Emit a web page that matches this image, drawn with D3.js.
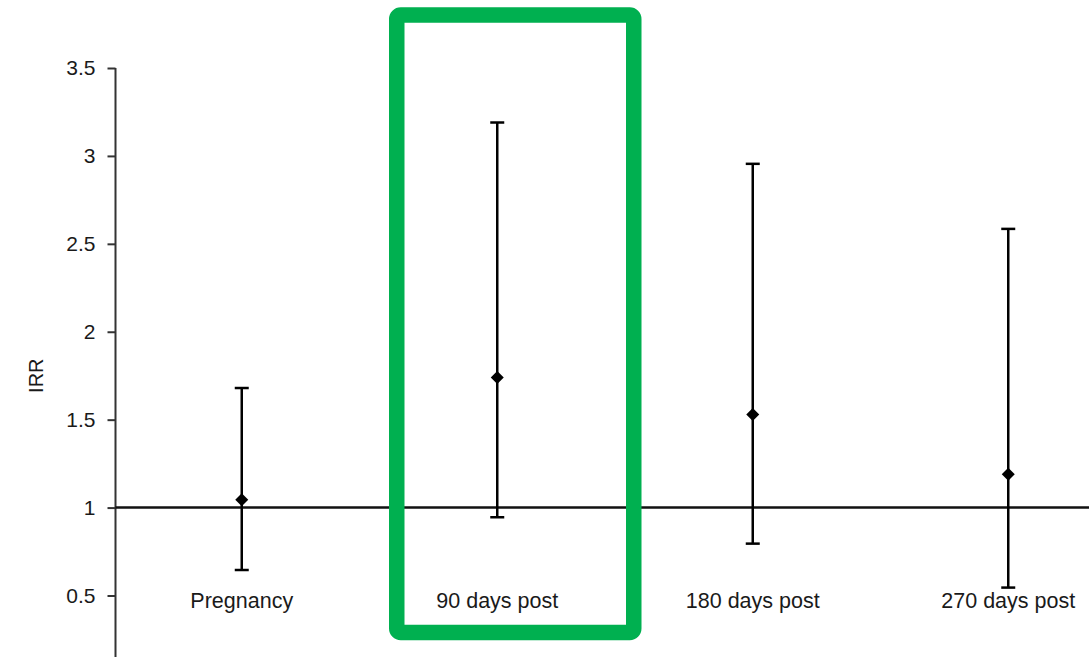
<!DOCTYPE html>
<html>
<head>
<meta charset="utf-8">
<script src="https://cdn.jsdelivr.net/npm/d3@7"></script>
<style>
  html, body { margin: 0; padding: 0; background: #fff; }
  svg { display: block; }
  text { font-family: Arial, "Liberation Sans", sans-serif; fill: #1a1a1a; }
</style>
</head>
<body>
<script>
// Incidence rate ratios with 95% confidence intervals by period
const categories = ["Pregnancy", "90 days post", "180 days post", "270 days post"];
const irr   = [1.045, 1.74, 1.53, 1.19];
const lower = [0.645, 0.945, 0.795, 0.545];
const upper = [1.68, 3.19, 2.955, 2.585];
const yTicks = [0.5, 1, 1.5, 2, 2.5, 3, 3.5];
const yTickLabels = ["0.5", "1", "1.5", "2", "2.5", "3", "3.5"];
const referenceValue = 1;
const highlighted = "90 days post";

const W = 1089, H = 657;
const svg = d3.select("body").append("svg").attr("width", W).attr("height", H);

const x = d3.scaleBand().domain(categories).range([114, 1136]).padding(0);
const y = d3.scaleLinear().domain([0.5, 3.5]).range([595.5, 68]);
const axisX = 115.5;

// y axis
const yAxis = d3.axisLeft(y)
  .tickValues(yTicks)
  .tickFormat((d, i) => yTickLabels[i])
  .tickSize(8)
  .tickPadding(12);
const gy = svg.append("g").attr("transform", `translate(${axisX},0)`).call(yAxis);
gy.select(".domain").remove();
gy.selectAll(".tick line").attr("stroke", "#333").attr("stroke-width", 2);
gy.selectAll(".tick text").style("font-size", "21px").attr("fill", "#1a1a1a");
svg.append("line")
  .attr("x1", axisX).attr("x2", axisX)
  .attr("y1", y(3.5)).attr("y2", H + 5)
  .attr("stroke", "#333").attr("stroke-width", 2);

// y axis title
svg.append("text")
  .attr("transform", `translate(${43},${y(1.75)}) rotate(-90)`)
  .attr("text-anchor", "middle")
  .style("font-size", "20px")
  .text("IRR");

// reference line at IRR = 1
svg.append("line")
  .attr("x1", axisX).attr("x2", W)
  .attr("y1", y(referenceValue)).attr("y2", y(referenceValue))
  .attr("stroke", "#111").attr("stroke-width", 2.5);

const cx = d => x(d) + x.bandwidth() / 2;
const data = categories.map((c, i) => ({ c, v: irr[i], lo: lower[i], hi: upper[i] }));

// confidence interval whiskers
const g = svg.append("g").attr("stroke", "#000").attr("stroke-width", 2.5);
g.selectAll(".ci").data(data).join("line")
  .attr("x1", d => cx(d.c)).attr("x2", d => cx(d.c))
  .attr("y1", d => y(d.lo)).attr("y2", d => y(d.hi));
g.selectAll(".capHi").data(data).join("line")
  .attr("x1", d => cx(d.c) - 7).attr("x2", d => cx(d.c) + 7)
  .attr("y1", d => y(d.hi)).attr("y2", d => y(d.hi));
g.selectAll(".capLo").data(data).join("line")
  .attr("x1", d => cx(d.c) - 7).attr("x2", d => cx(d.c) + 7)
  .attr("y1", d => y(d.lo)).attr("y2", d => y(d.lo));

// point estimates (diamonds)
svg.selectAll(".pt").data(data).join("path")
  .attr("d", d => {
    const px = cx(d.c), py = y(d.v), r = 6.5;
    return `M${px},${py - r}L${px + r},${py}L${px},${py + r}L${px - r},${py}Z`;
  })
  .attr("fill", "#000");

// category labels
svg.selectAll(".cat").data(categories).join("text")
  .attr("x", d => cx(d))
  .attr("y", 608)
  .attr("text-anchor", "middle")
  .style("font-size", "21.5px")
  .text(d => d);

// highlight frame around one period
const hx = cx(highlighted);
svg.append("rect")
  .attr("x", hx - 100.5)
  .attr("y", 15)
  .attr("width", 237)
  .attr("height", 617.5)
  .attr("rx", 4)
  .attr("fill", "none")
  .attr("stroke", "#00b050")
  .attr("stroke-width", 15.5);
</script>
</body>
</html>
